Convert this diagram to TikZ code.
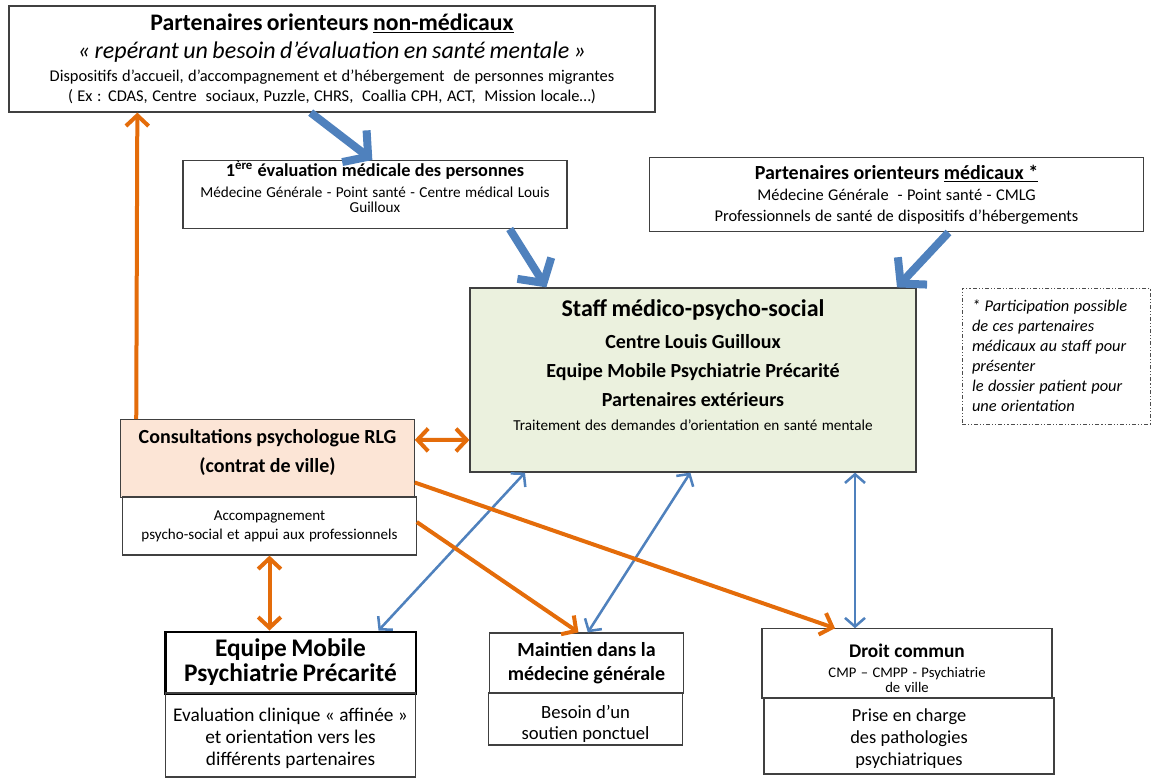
\documentclass[tikz,border=0pt]{standalone}
\usepackage{fontspec}
\setmainfont{Carlito}
\usetikzlibrary{arrows.meta}

\definecolor{ccorange}{RGB}{228,108,10}
\definecolor{ccblue}{RGB}{79,129,189}
\definecolor{staffgreen}{RGB}{235,241,222}
\definecolor{rlgpeach}{RGB}{252,229,214}
\newcommand{\fs}[2]{\fontsize{#1}{#2}\selectfont}

\tikzset{
  box/.style={draw=black!75, line width=0.9pt, align=center, inner sep=0pt},
  orangearrow/.style={draw=ccorange, line width=3pt, -{Straight Barb[length=8pt,width=17pt]}},
  orangeboth/.style={draw=ccorange, line width=3pt, {Straight Barb[length=8pt,width=17pt]}-{Straight Barb[length=8pt,width=17pt]}},
  bigarrow/.style={draw=ccblue, line width=6pt, -{Straight Barb[length=13pt,width=30pt]}},
  thinarrow/.style={draw=ccblue, line width=1.9pt, {Straight Barb[length=6.5pt,width=15pt]}-{Straight Barb[length=6.5pt,width=15pt]}},
}

\begin{document}
\begin{tikzpicture}[x=0.75pt, y=-0.75pt]

\useasboundingbox (0,0) rectangle (1152,779);

% the partners at the top
\node[box, minimum width=484.5pt, minimum height=79.5pt, text width=480pt] (nonmed) at (332,59) {%
{\fs{17.8}{19}\bfseries Partenaires orienteurs \underline{non-médicaux}\par}
{\fs{18}{21}\itshape « repérant un besoin d’évaluation en santé mentale »\par}
{\fs{12.3}{17}Dispositifs d’accueil, d’accompagnement et d’hébergement\ \ de personnes migrantes\par}
{\fs{12.3}{15.5}( Ex : CDAS, Centre\ \ sociaux, Puzzle, CHRS,\ \ Coallia CPH, ACT,\ \ Mission locale…)\par}};

\node[box, minimum width=288pt, minimum height=50pt, text width=284pt] (evalmed) at (375,194.5) {%
{\fs{13.7}{14}\bfseries 1\textsuperscript{ère} évaluation médicale des personnes\par}
{\fs{11.4}{15.75}Médecine Générale - Point santé - Centre médical Louis\par}
{\fs{11.4}{11.25}Guilloux\par}
\rule{0pt}{5pt}};

\node[box, minimum width=371pt, minimum height=56pt, text width=365pt] (medpart) at (896.5,194.5) {%
{\fs{15}{15}\bfseries Partenaires orienteurs \underline{médicaux *}\par}
{\fs{12.3}{15.75}Médecine Générale\ \ - Point santé - CMLG\par}
{\fs{12.3}{15.75}Professionnels de santé de dispositifs d’hébergements\par}};

% the staff in the middle
\node[box, fill=staffgreen, minimum width=334.5pt, minimum height=138pt, text width=330pt] (staff) at (693,380) {%
{\fs{18}{18}\bfseries Staff médico-psycho-social\par}
{\fs{15}{23.5}\bfseries Centre Louis Guilloux\par}
{\fs{15}{21.75}\bfseries Equipe Mobile Psychiatrie Précarité\par}
{\fs{15}{21.75}\bfseries Partenaires extérieurs\par}
{\fs{11.4}{18.5}Traitement des demandes d’orientation en santé mentale\par}
\rule{0pt}{21pt}};

\node[draw=black!70, line width=0.6pt, dash pattern=on 3pt off 1.5pt on 0.8pt off 1.5pt on 0.8pt off 1.5pt,
  align=left, inner xsep=7.5pt, inner ysep=0pt, text width=126pt, minimum height=102pt] (note) at (1056,356) {%
{\fs{12.3}{15}\itshape * Participation possible\\ de ces partenaires\\ médicaux au staff pour\\ présenter\\ le dossier patient pour\\ une orientation\par}};

% psychologue RLG
\node[box, fill=rlgpeach, minimum width=220pt, minimum height=58pt, text width=216pt] (rlg) at (267.5,458.5) {%
{\fs{15}{15}\bfseries Consultations psychologue RLG\par}
{\fs{15}{21.75}\bfseries (contrat de ville)\par}
\rule{0pt}{4pt}};
\node[box, minimum width=220pt, minimum height=43.5pt, text width=216pt] (rlgsub) at (269.5,526) {%
{\fs{11.3}{14.25}Accompagnement\par psycho-social et appui aux professionnels\par}};

% the three ways out
\node[box, draw=black, line width=2pt, minimum width=188pt, minimum height=46pt, text width=184pt] (empp) at (290.5,662.5) {%
{\fs{19}{18.75}\bfseries Equipe Mobile\par Psychiatrie Précarité\par}};
\node[box, minimum width=187pt, minimum height=63pt, text width=183pt] (emppsub) at (290.5,735) {%
{\fs{14.5}{16.5}\rule{0pt}{15pt}Evaluation clinique « affinée »\par et orientation vers les\par différents partenaires\par}};

\node[box, minimum width=145pt, minimum height=45pt, text width=141pt] (maintien) at (586.5,663) {%
{\fs{15}{18}\bfseries Maintien dans la\par médecine générale\par}};
\node[box, minimum width=146pt, minimum height=39pt, text width=142pt] (maintiensub) at (585.5,719) {%
{\fs{14}{15.75}\rule{0pt}{17pt}Besoin d’un\par soutien ponctuel\par}};

\node[box, minimum width=217.5pt, minimum height=52pt, text width=213pt] (droit) at (907,663.5) {%
{\fs{14.5}{15}\bfseries\rule{0pt}{18pt}Droit commun\par}
{\fs{11}{15}CMP – CMPP - Psychiatrie\par}
{\fs{11}{11.25}de ville\par}};
\node[box, minimum width=217.5pt, minimum height=57pt, text width=213pt] (droitsub) at (909,736) {%
{\fs{13.8}{16.5}\rule{0pt}{14pt}Prise en charge\par des pathologies\par psychiatriques\par}};

% big blue arrows
\draw[bigarrow] ([xshift=-16pt]nonmed.south) -- ([xshift=-2pt]evalmed.north);
\draw[bigarrow] ([xshift=101pt]evalmed.south) -- ([xshift=-110pt]staff.north);
\draw[bigarrow] ([xshift=39pt]medpart.south) -- ([xshift=153pt]staff.north);

% thin blue arrows
\draw[thinarrow] ([xshift=-126pt]staff.south) -- ([xshift=66pt]empp.north);
\draw[thinarrow] ([xshift=-2pt]staff.south) -- ([xshift=1pt]maintien.north);
\draw[thinarrow] ([xshift=121.5pt]staff.south) -- ([xshift=-39pt]droit.north);

% orange arrows
\draw[orangearrow] ([xshift=12pt]rlg.north west) -- ([xshift=-146pt]nonmed.south);
\draw[orangeboth] ([yshift=14pt]rlg.east) -- ([yshift=-45pt]staff.west);
\draw[orangeboth] (rlgsub.south) -- (rlgsub.south |- empp.north);
\draw[orangearrow] ([yshift=-18pt]rlg.east) -- ([xshift=-54pt]droit.north);
\draw[orangearrow] ([yshift=3pt]rlgsub.east) -- ([xshift=-6pt]maintien.north);

\end{tikzpicture}
\end{document}
